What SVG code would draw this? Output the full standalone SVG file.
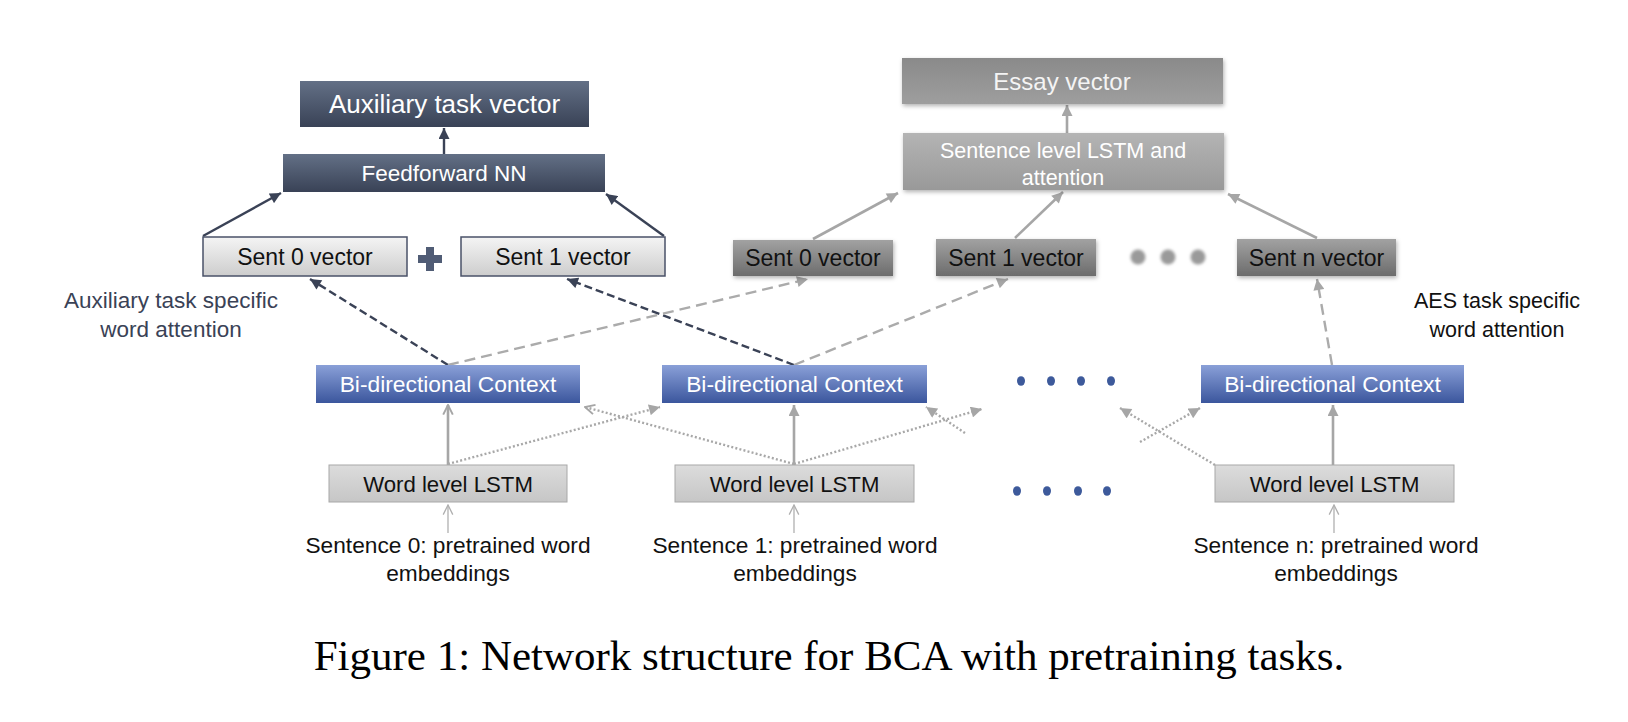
<svg xmlns="http://www.w3.org/2000/svg" width="1628" height="722" viewBox="0 0 1628 722">
<defs>
<style>
text{font-family:"Liberation Sans",Arial,sans-serif;text-anchor:middle}
text.cap{font-family:"Liberation Serif","Times New Roman",serif}
.w{fill:#ffffff}
.k{fill:#111111}
.lbl{font-size:23px}
.wl{font-size:22.2px}
.bd{font-size:22.8px}
.inp{font-size:22.7px}
.dash-d{fill:none;stroke:#3a4256;stroke-width:2.4;stroke-dasharray:8 4}
.dash-g{fill:none;stroke:#ababab;stroke-width:2.4;stroke-dasharray:11 6}
.dot-g{fill:none;stroke:#a8a8a8;stroke-width:2.4;stroke-dasharray:2 2.2}
.sol-d{fill:none;stroke:#3a4256;stroke-width:2.4}
.sol-g{fill:none;stroke:#a6a6a6;stroke-width:2.6}
.thin-g{fill:none;stroke:#b0b0b0;stroke-width:1.3}
</style>
<linearGradient id="gSlate" x1="0" y1="0" x2="0" y2="1"><stop offset="0" stop-color="#637086"/><stop offset="1" stop-color="#394256"/></linearGradient>
<linearGradient id="gLight" x1="0" y1="0" x2="0" y2="1"><stop offset="0" stop-color="#f4f4f4"/><stop offset="1" stop-color="#cdcdcd"/></linearGradient>
<linearGradient id="gDark" x1="0" y1="0" x2="0" y2="1"><stop offset="0" stop-color="#a2a2a2"/><stop offset="1" stop-color="#6c6c6c"/></linearGradient>
<linearGradient id="gEssay" x1="0" y1="0" x2="0" y2="1"><stop offset="0" stop-color="#8a8a8a"/><stop offset="1" stop-color="#9e9e9e"/></linearGradient>
<linearGradient id="gSentL" x1="0" y1="0" x2="0" y2="1"><stop offset="0" stop-color="#b4b4b4"/><stop offset="1" stop-color="#999999"/></linearGradient>
<linearGradient id="gBlue" x1="0" y1="0" x2="0" y2="1"><stop offset="0" stop-color="#8aa0d8"/><stop offset="1" stop-color="#3b569d"/></linearGradient>
<linearGradient id="gWord" x1="0" y1="0" x2="0" y2="1"><stop offset="0" stop-color="#dcdcdc"/><stop offset="1" stop-color="#c6c6c6"/></linearGradient>
<filter id="shadow" x="-10%" y="-20%" width="120%" height="150%"><feDropShadow dx="1" dy="2" stdDeviation="2" flood-color="#000" flood-opacity="0.3"/></filter>
<filter id="blur" x="-50%" y="-50%" width="200%" height="200%"><feGaussianBlur stdDeviation="1.6"/></filter>
<marker id="aD" viewBox="0 0 10 10" refX="10" refY="5" markerWidth="12" markerHeight="11" markerUnits="userSpaceOnUse" orient="auto"><path d="M0,0 L10,5 L0,10 z" fill="#3a4256"/></marker>
<marker id="aG" viewBox="0 0 10 10" refX="10" refY="5" markerWidth="12" markerHeight="11" markerUnits="userSpaceOnUse" orient="auto"><path d="M0,0 L10,5 L0,10 z" fill="#a6a6a6"/></marker>
<marker id="aO" viewBox="0 0 10 10" refX="9" refY="5" markerWidth="12" markerHeight="12" markerUnits="userSpaceOnUse" orient="auto"><path d="M1,1 L9,5 L1,9" fill="none" stroke="#a6a6a6" stroke-width="1.6"/></marker>
<marker id="aT" viewBox="0 0 10 10" refX="9" refY="5" markerWidth="12" markerHeight="12" markerUnits="userSpaceOnUse" orient="auto"><path d="M1,1 L9,5 L1,9" fill="none" stroke="#b0b0b0" stroke-width="1.1"/></marker>
</defs>
<rect width="1628" height="722" fill="#ffffff"/>

<g id="connectors">
<line class="sol-d" x1="444" y1="154" x2="444" y2="128" marker-end="url(#aD)"/>
<line class="sol-d" x1="203" y1="236" x2="281" y2="193" marker-end="url(#aD)"/>
<line class="sol-d" x1="664" y1="236" x2="606" y2="194" marker-end="url(#aD)"/>
<line class="sol-g" x1="1067" y1="133" x2="1067" y2="105" marker-end="url(#aG)"/>
<line class="sol-g" x1="813" y1="239" x2="898" y2="193" marker-end="url(#aG)"/>
<line class="sol-g" x1="1015" y1="238" x2="1063" y2="192" marker-end="url(#aG)"/>
<line class="sol-g" x1="1317" y1="238" x2="1228" y2="194" marker-end="url(#aG)"/>
<line class="dash-d" x1="448" y1="365" x2="310" y2="279" marker-end="url(#aD)"/>
<line class="dash-d" x1="794" y1="365" x2="567" y2="279" marker-end="url(#aD)"/>
<line class="dash-g" x1="448" y1="365" x2="808" y2="279" marker-end="url(#aG)"/>
<line class="dash-g" x1="794" y1="365" x2="1008" y2="279" marker-end="url(#aG)"/>
<line class="dash-g" x1="1332" y1="365" x2="1317" y2="279" marker-end="url(#aG)"/>
<line class="sol-g" x1="448" y1="465" x2="448" y2="405" marker-end="url(#aO)"/>
<line class="sol-g" x1="794" y1="465" x2="794" y2="405" marker-end="url(#aG)"/>
<line class="sol-g" x1="1333" y1="465" x2="1333" y2="405" marker-end="url(#aG)"/>
<line class="dot-g" x1="448" y1="464" x2="660" y2="407" marker-end="url(#aG)"/>
<line class="dot-g" x1="794" y1="464" x2="585" y2="407" marker-end="url(#aO)"/>
<line class="dot-g" x1="794" y1="464" x2="982" y2="409" marker-end="url(#aG)"/>
<line class="dot-g" x1="965" y1="433" x2="926" y2="407" marker-end="url(#aG)"/>
<line class="dot-g" x1="1215" y1="465" x2="1120" y2="408" marker-end="url(#aG)"/>
<line class="dot-g" x1="1140" y1="442" x2="1200" y2="408" marker-end="url(#aG)"/>
<line class="thin-g" x1="448" y1="533" x2="448" y2="505" marker-end="url(#aT)"/>
<line class="thin-g" x1="794" y1="533" x2="794" y2="505" marker-end="url(#aT)"/>
<line class="thin-g" x1="1334" y1="533" x2="1334" y2="505" marker-end="url(#aT)"/>
</g>

<g id="aux-vector"><rect x="300" y="81" width="289" height="46" fill="url(#gSlate)"/><text class="w" x="444.5" y="113" font-size="26">Auxiliary task vector</text></g>
<g id="feedforward"><rect x="283" y="154" width="322" height="38" fill="url(#gSlate)"/><text class="w" x="444" y="181" font-size="22.5">Feedforward NN</text></g>
<g id="aux-sent0"><rect x="203" y="237" width="204" height="39" fill="url(#gLight)" stroke="#4a5268" stroke-width="1.5"/><text class="k lbl" x="305" y="264.5">Sent 0 vector</text></g>
<g id="plus"><rect x="418" y="255" width="24" height="8" fill="#505c75"/><rect x="426" y="247" width="8" height="24" fill="#505c75"/></g>
<g id="aux-sent1"><rect x="461" y="237" width="204" height="39" fill="url(#gLight)" stroke="#4a5268" stroke-width="1.5"/><text class="k lbl" x="563" y="264.5">Sent 1 vector</text></g>

<g id="essay-vector"><rect x="902" y="58" width="321" height="46" fill="url(#gEssay)" filter="url(#shadow)"/><text x="1062" y="89.5" font-size="24" fill="#f4f4f4">Essay vector</text></g>
<g id="sentence-lstm"><rect x="903" y="133" width="321" height="57" fill="url(#gSentL)" filter="url(#shadow)"/><text class="w" x="1063" y="158" font-size="21.5">Sentence level LSTM and</text><text class="w" x="1063" y="185" font-size="21.5">attention</text></g>
<g id="aes-sent0"><rect x="733" y="240" width="160" height="36" fill="url(#gDark)" filter="url(#shadow)"/><text class="k lbl" x="813" y="266">Sent 0 vector</text></g>
<g id="aes-sent1"><rect x="936" y="239" width="160" height="37" fill="url(#gDark)" filter="url(#shadow)"/><text class="k lbl" x="1016" y="265.5">Sent 1 vector</text></g>
<g id="gray-dots" filter="url(#blur)" fill="#9a9a9a"><circle cx="1138" cy="257" r="7.5"/><circle cx="1168" cy="257" r="7.5"/><circle cx="1198" cy="257" r="7.5"/></g>
<g id="aes-sentn"><rect x="1237" y="239" width="159" height="37" fill="url(#gDark)" filter="url(#shadow)"/><text class="k lbl" x="1316.5" y="265.5">Sent n vector</text></g>

<g id="label-aux"><text x="171" y="308" font-size="22.5" fill="#3a4256">Auxiliary task specific</text><text x="171" y="337" font-size="22.5" fill="#3a4256">word attention</text></g>
<g id="label-aes"><text x="1497" y="308" font-size="21.5" fill="#111">AES task specific</text><text x="1497" y="337" font-size="21.5" fill="#111">word attention</text></g>

<g id="bidir0"><rect x="316" y="365" width="264" height="38" fill="url(#gBlue)"/><text class="w bd" x="448" y="392">Bi-directional Context</text></g>
<g id="bidir1"><rect x="662" y="365" width="265" height="38" fill="url(#gBlue)"/><text class="w bd" x="794.5" y="392">Bi-directional Context</text></g>
<g id="bidirn"><rect x="1201" y="365" width="263" height="38" fill="url(#gBlue)"/><text class="w bd" x="1332.5" y="392">Bi-directional Context</text></g>
<g id="blue-dots-top" fill="#3d5a9b"><ellipse cx="1021" cy="381" rx="4" ry="4.8"/><ellipse cx="1051" cy="381" rx="4" ry="4.8"/><ellipse cx="1081" cy="381" rx="4" ry="4.8"/><ellipse cx="1111" cy="381" rx="4" ry="4.8"/></g>

<g id="word0"><rect x="329" y="465" width="238" height="37" fill="url(#gWord)" stroke="#a8a8a8" stroke-width="1"/><text class="k wl" x="448" y="491.5">Word level LSTM</text></g>
<g id="word1"><rect x="675" y="465" width="239" height="37" fill="url(#gWord)" stroke="#a8a8a8" stroke-width="1"/><text class="k wl" x="794.5" y="491.5">Word level LSTM</text></g>
<g id="wordn"><rect x="1215" y="465" width="239" height="37" fill="url(#gWord)" stroke="#a8a8a8" stroke-width="1"/><text class="k wl" x="1334.5" y="491.5">Word level LSTM</text></g>
<g id="blue-dots-bottom" fill="#3d5a9b"><ellipse cx="1017" cy="491" rx="4" ry="4.8"/><ellipse cx="1047" cy="491" rx="4" ry="4.8"/><ellipse cx="1078" cy="491" rx="4" ry="4.8"/><ellipse cx="1107" cy="491" rx="4" ry="4.8"/></g>

<g id="input0"><text class="k inp" x="448" y="553">Sentence 0: pretrained word</text><text class="k inp" x="448" y="581">embeddings</text></g>
<g id="input1"><text class="k inp" x="795" y="553">Sentence 1: pretrained word</text><text class="k inp" x="795" y="581">embeddings</text></g>
<g id="inputn"><text class="k inp" x="1336" y="553">Sentence n: pretrained word</text><text class="k inp" x="1336" y="581">embeddings</text></g>

<g id="caption"><text class="cap" x="829" y="670" font-size="43" fill="#000">Figure 1: Network structure for BCA with pretraining tasks.</text></g>
</svg>
